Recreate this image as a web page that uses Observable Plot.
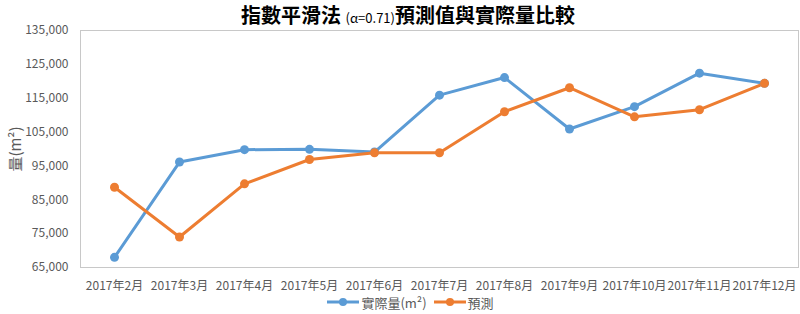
<!DOCTYPE html>
<html>
<head>
<meta charset="utf-8">
<script src="https://cdn.jsdelivr.net/npm/d3@7"></script>
<script src="https://cdn.jsdelivr.net/npm/@observablehq/plot@0.6"></script>
<style>
  html, body { margin: 0; padding: 0; background: #fff; }
  body { width: 800px; height: 314px; position: relative; overflow: hidden; font-family: "Noto Sans CJK TC", "Noto Sans", sans-serif; }
  #title { position: absolute; top: 2px; left: 0; width: 816px; text-align: center; font-size: 20px; font-weight: bold; color: #000; line-height: 26px; z-index: 2; }
  #title .small { font-size: 13px; font-weight: normal; }
  #chart { position: absolute; top: 0; left: 0; }
  #legend { position: absolute; top: 292px; left: 0; width: 820px; height: 20px; display: flex; justify-content: center; align-items: center; font-size: 13px; color: #595959; gap: 6px; }
  #legend .item { display: flex; align-items: center; gap: 1px; }
</style>
</head>
<body>
<div id="title">指數平滑法 <span class="small">(α=0.71)</span>預測值與實際量比較</div>
<div id="chart"></div>
<div id="legend"></div>
<script>
const months = ["2017年2月","2017年3月","2017年4月","2017年5月","2017年6月","2017年7月","2017年8月","2017年9月","2017年10月","2017年11月","2017年12月"];
const actual = [68000, 96150, 99800, 99900, 99100, 115900, 121100, 105900, 112500, 122400, 119400];
const forecast = [88700, 74000, 89700, 96900, 98900, 98900, 111000, 118100, 109500, 111600, 119400];
const seriesNames = ["實際量(m²)", "預測"];
const seriesColors = ["#5B9BD5", "#ED7D31"];
const yTicks = [65000, 75000, 85000, 95000, 105000, 115000, 125000, 135000];

const rows = [];
months.forEach((m, i) => {
  rows.push({month: m, value: actual[i], series: seriesNames[0]});
});
months.forEach((m, i) => {
  rows.push({month: m, value: forecast[i], series: seriesNames[1]});
});

const chart = Plot.plot({
  width: 800,
  height: 292,
  marginTop: 30,
  marginBottom: 25,
  marginLeft: 80,
  marginRight: 2,
  style: {fontFamily: "'Noto Sans CJK TC', 'Noto Sans', sans-serif", fontSize: "12px", color: "#595959", background: "transparent"},
  x: {type: "point", domain: months, padding: 0.5},
  y: {domain: [65000, 135000]},
  color: {domain: seriesNames, range: seriesColors},
  marks: [
    Plot.frame({stroke: "#c8c8c8", strokeWidth: 1}),
    Plot.axisX({tickSize: 0, tickPadding: 14, label: null, fontSize: 12, fill: "#595959"}),
    Plot.axisY({ticks: yTicks, tickSize: 0, tickPadding: 12, tickFormat: d3.format(","), fontSize: 12, fill: "#595959",
      label: "量(m²)", labelAnchor: "center", labelArrow: "none", labelOffset: 70}),
    Plot.line(rows, {x: "month", y: "value", z: "series", stroke: "series", strokeWidth: 3}),
    Plot.dot(rows, {x: "month", y: "value", fill: "series", r: 4.5})
  ]
});
const yLabel = chart.querySelector('[aria-label="y-axis label"]');
if (yLabel) { yLabel.setAttribute("font-size", "15"); yLabel.querySelectorAll("text").forEach(t => t.setAttribute("font-size", "15")); }
document.getElementById("chart").appendChild(chart);

const legend = document.getElementById("legend");
seriesNames.forEach((name, i) => {
  const item = document.createElement("div");
  item.className = "item";
  item.innerHTML = `<svg width="34" height="12"><line x1="1" x2="33" y1="6" y2="6" stroke="${seriesColors[i]}" stroke-width="3"/><circle cx="17" cy="6" r="4" fill="${seriesColors[i]}"/></svg><span>${name}</span>`;
  legend.appendChild(item);
});
</script>
</body>
</html>
